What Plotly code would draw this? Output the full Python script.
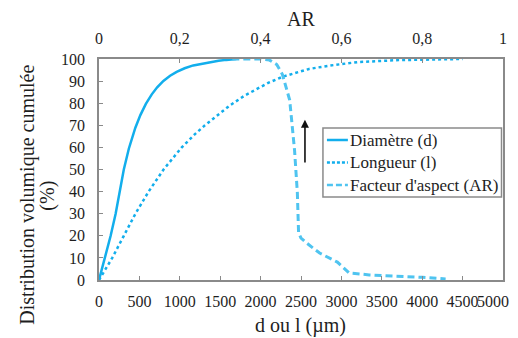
import plotly.graph_objects as go

# Diamètre (d) : d en µm, distribution volumique cumulée en %
diam_d = [0, 74, 144, 206, 254, 307, 369, 410, 450, 512, 580, 653, 720, 797, 880, 961, 1060, 1166, 1270, 1372, 1480, 1575, 1700]
diam_v = [0, 10, 20, 30, 40, 50, 59.4, 64.6, 68.9, 74.6, 79.7, 84.0, 87.2, 90.1, 92.4, 94.2, 95.8, 97.1, 97.9, 98.6, 99.2, 99.6, 100]

# Longueur (l)
long_l = [0, 164, 307, 451, 614, 799, 1024, 1187, 1311, 1452, 1620, 1800, 1950, 2100, 2275, 2450, 2600, 2850, 3200, 3710, 4100, 4500]
long_v = [0, 10, 20, 30, 40, 50, 60, 66, 70, 74.3, 79, 83.4, 86.5, 89.3, 92, 94, 95.5, 97.0, 98.6, 99.5, 99.8, 100]

# Facteur d'aspect (AR)
ar_x = [0.33, 0.40, 0.422, 0.440, 0.454, 0.472, 0.484, 0.491, 0.494, 0.500, 0.514, 0.546, 0.590, 0.605, 0.619, 0.669, 0.75, 0.80, 0.858]
ar_v = [100, 100, 99.5, 97.5, 93, 81.4, 58.8, 39.4, 21.3, 19, 16.7, 12.2, 8.1, 5.5, 3.2, 2.3, 1.8, 1.2, 0.5]

x_ticks = [0, 500, 1000, 1500, 2000, 2500, 3000, 3500, 4000, 4500, 5000]
x_ticktext = ["0", "500", "1000", "1500", "2000", "2500", "3000", "3500", "4000", "4500",
              "5000" + "\u00a0" * 5]
ar_ticks = [0, 0.2, 0.4, 0.6, 0.8, 1]
ar_ticktext = ["0", "0,2", "0,4", "0,6", "0,8", "1"]
y_ticks = list(range(0, 101, 10))

series_names = ["Diamètre (d)", "Longueur (l)", "Facteur d'aspect (AR)"]

blue = "#12AEEC"
blue_dash = "#4FC4F0"
font = "Liberation Serif"
txt = "#1e1e1e"
axc = "#8a8a8a"

# plot area in page pixels (page has an 8px body margin)
PL, PR, PT, PB = 98.5, 503.5, 59.0, 280.0


def px(xpix):
    return (xpix - PL) / (PR - PL)


def py(ypix):
    return (PB - ypix) / (PB - PT)


fig = go.Figure()
fig.add_trace(go.Scatter(x=diam_d, y=diam_v, mode="lines", name=series_names[0],
                         line=dict(color=blue, width=2.5)))
fig.add_trace(go.Scatter(x=long_l, y=long_v, mode="lines", name=series_names[1],
                         line=dict(color=blue, width=2.5, dash="dot")))
fig.add_trace(go.Scatter(x=ar_x, y=ar_v, mode="lines", name=series_names[2], xaxis="x2",
                         line=dict(color=blue_dash, width=3, dash="7px,4px")))

# arrow
fig.add_annotation(x=2549, y=72.5, ax=2549, ay=52.5, xref="x", yref="y", axref="x", ayref="y",
                   text="", showarrow=True, arrowhead=2, arrowsize=1, arrowwidth=1.6, arrowcolor="#111")

# custom legend (box, samples, labels)
fig.add_shape(type="rect", xref="paper", yref="paper", x0=px(323), x1=px(502), y0=py(197), y1=py(128),
              line=dict(color=axc, width=1.5), fillcolor="white", layer="above")
leg_y = [140, 162.5, 185]
leg_dash = ["solid", "3px,2px", "6px,3px"]
leg_col = [blue, blue, blue_dash]
for name, yy, dsh, col in zip(series_names, leg_y, leg_dash, leg_col):
    fig.add_shape(type="line", xref="paper", yref="paper", x0=px(327), x1=px(348), y0=py(yy), y1=py(yy),
                  line=dict(color=col, width=2.5, dash=dsh), layer="above")
    fig.add_annotation(xref="paper", yref="paper", x=px(348.5), y=py(yy), text=name, showarrow=False,
                       xanchor="left", yanchor="middle", font=dict(family=font, size=17, color=txt))

# axis titles
titf = dict(family=font, size=20, color=txt)
fig.add_annotation(xref="paper", yref="paper", x=px(26), y=py(195), text="Distribution volumique cumulée",
                   textangle=-90, showarrow=False, xanchor="center", yanchor="middle", font=titf)
fig.add_annotation(xref="paper", yref="paper", x=px(46), y=py(196), text="(%)",
                   textangle=-90, showarrow=False, xanchor="center", yanchor="middle", font=titf)
fig.add_annotation(xref="paper", yref="paper", x=px(300.5), y=py(325), text="d ou l (µm)",
                   showarrow=False, xanchor="center", yanchor="middle", font=titf)
fig.add_annotation(xref="paper", yref="paper", x=px(300.5), y=py(18.5), text="AR",
                   showarrow=False, xanchor="center", yanchor="middle", font=titf)

tf = dict(family=font, size=16, color=txt)

fig.update_layout(
    width=510, height=330,
    margin=dict(l=90.5, r=14.5, t=51, b=58, pad=0),
    paper_bgcolor="white", plot_bgcolor="white",
    font=dict(family=font, size=16, color=txt),
    showlegend=False,
    xaxis=dict(range=[0, 5000], tickvals=x_ticks, ticktext=x_ticktext, ticks="inside", ticklen=4,
               tickangle=0, tickcolor=axc, showline=True, linecolor=axc, linewidth=1.5, mirror=False,
               showgrid=False, zeroline=False, automargin=False, ticklabelstandoff=6,
               ticklabeloverflow="allow", tickfont=tf),
    xaxis2=dict(range=[0, 1], overlaying="x", side="top", tickvals=ar_ticks, ticktext=ar_ticktext,
                tickangle=0, ticks="inside", ticklen=4, tickcolor=axc, showline=True, linecolor=axc,
                linewidth=1.5, showgrid=False, zeroline=False, automargin=False, ticklabelstandoff=7,
                ticklabeloverflow="allow", tickfont=tf),
    yaxis=dict(range=[0, 100], tickvals=y_ticks, ticks="inside", ticklen=4, tickcolor=axc,
               showline=True, linecolor=axc, linewidth=1.5, mirror=True, showgrid=False,
               zeroline=False, automargin=False, ticklabelstandoff=9, tickfont=tf),
)

fig.write_html("out.html")
